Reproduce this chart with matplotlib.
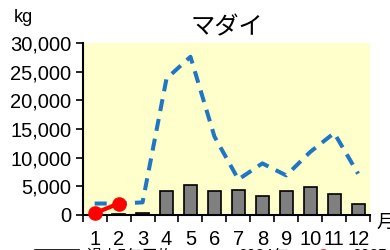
import matplotlib
matplotlib.use("Agg")
import matplotlib.pyplot as plt
import matplotlib.ticker as mtick

plt.rcParams['font.family'] = ['Liberation Sans', 'Noto Sans CJK JP', 'DejaVu Sans']

# Data
months = [1, 2, 3, 4, 5, 6, 7, 8, 9, 10, 11, 12]
month_labels = [str(m) for m in months]
avg5 = [30, 150, 300, 4100, 5200, 4200, 4400, 3300, 4100, 4800, 3600, 1900]
y2024 = [2000, 2000, 2200, 23800, 27600, 13700, 6200, 9000, 6900, 11000, 14300, 7200]
y2025_months = [1, 2]
y2025 = [300, 2000]

fig = plt.figure(figsize=(3.9, 2.5), dpi=100)
ax = fig.add_axes([0.212, 0.14, 0.737, 0.688])
ax.set_facecolor('#ffffcc')

bars = ax.bar(months, avg5, width=0.55, color='#808080', edgecolor='black', linewidth=1.2,
              label='過去5年平均', zorder=2)
l24, = ax.plot(months, y2024, color='#1f77c4', linestyle=(0, (3.0, 2.0)), linewidth=2.9,
               label='2024年', zorder=3)
l25, = ax.plot(y2025_months, y2025, color='#ff0000', linewidth=3, marker='o', markersize=9.5,
               label='2025年', zorder=4, clip_on=False)

ax.set_xlim(0.5, 12.5)
ax.set_ylim(0, 30000)
ax.set_yticks(range(0, 30001, 5000))
ax.yaxis.set_major_formatter(mtick.StrMethodFormatter('{x:,.0f}'))
ax.set_xticks(months)
ax.set_xticklabels(month_labels)
ax.set_xticks([m + 0.5 for m in range(0, 13)], minor=True)
ax.tick_params(axis='x', which='major', length=0, labelsize=14.5, pad=11)
ax.tick_params(axis='x', which='minor', length=5, width=1.2, direction='out')
ax.tick_params(axis='y', length=5, width=1.2, labelsize=14.5, pad=3)

for s in ['top', 'right']:
    ax.spines[s].set_visible(False)
ax.spines['left'].set_linewidth(1.5)
ax.spines['bottom'].set_linewidth(1.5)

ax.set_title('マダイ', fontsize=17.5, pad=6)
fig.text(0.035, 0.93, 'kg', fontsize=13, ha='left', va='center')
fig.text(0.965, 0.108, '月', fontsize=13.5, ha='left', va='center')

fig.legend(handles=[bars, l24, l25], labels=['過去5年平均', '2024年', '2025年'],
           loc='upper left', bbox_to_anchor=(0.09, 0.004), ncol=3, frameon=False,
           fontsize=11.3, columnspacing=0.76, handlelength=2.8, handletextpad=0.5,
           borderpad=0, borderaxespad=0)

fig.savefig('out.png', dpi=100)
